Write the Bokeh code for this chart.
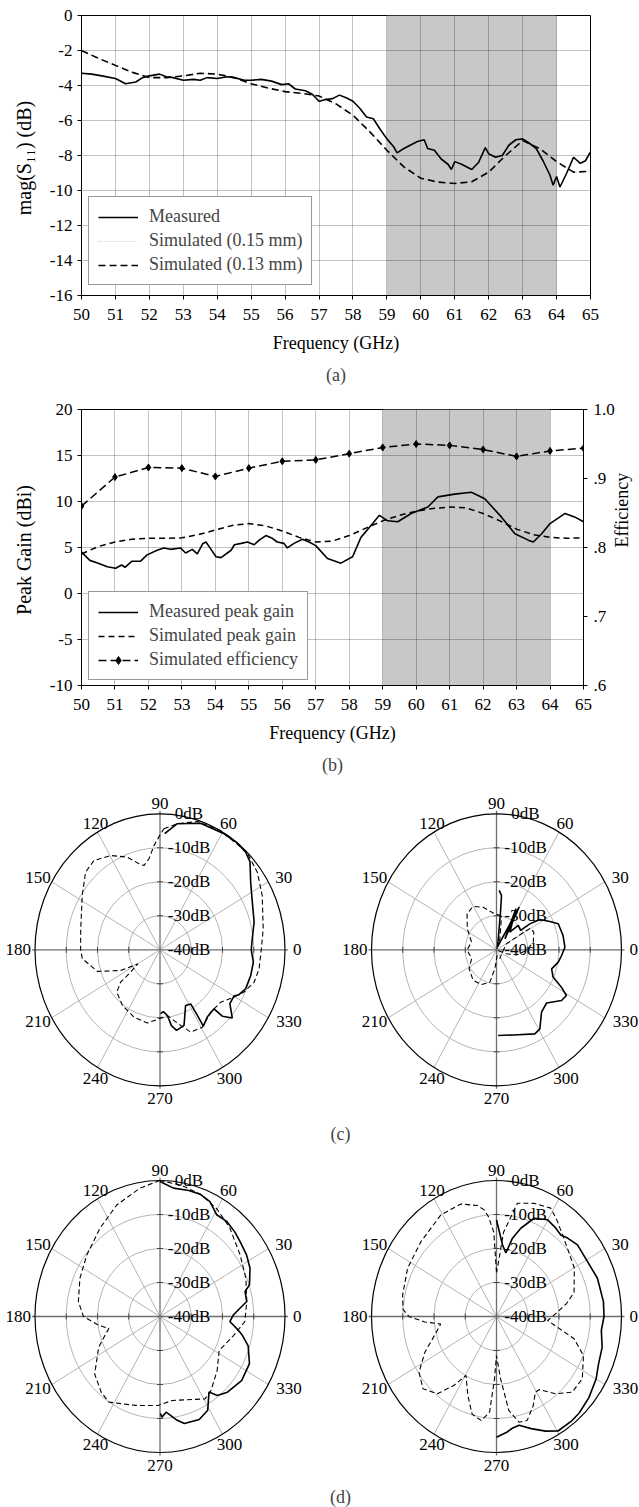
import numpy as np
from bokeh.plotting import figure
from bokeh.models import (Range1d, LinearAxis, FixedTicker, Legend, Title, Label,
                          ColumnDataSource, BoxAnnotation)
from bokeh.layouts import column
from bokeh.embed import file_html
from bokeh.resources import INLINE
from bokeh.core.properties import value

FONT = "Liberation Serif"
TICK_FS = "17px"
LAB_FS = "18px"
YLAB_FS = "20px"

# ---------------- (a) S11 ----------------
freq_ticks = list(range(50, 66))
s11_ticks = list(range(-16, 1, 2))
band = [59, 64]
s11_meas_f = [50.0, 50.3, 50.6, 51.0, 51.3, 51.6, 51.8, 52.0, 52.3, 52.5, 52.7, 53.0, 53.3, 53.5,
              53.7, 54.0, 54.3, 54.5, 54.8, 55.0, 55.3, 55.6, 55.9, 56.1, 56.3, 56.6, 56.8, 57.0,
              57.2, 57.4, 57.6, 57.8, 58.0, 58.2, 58.4, 58.6, 58.8, 59.0, 59.2, 59.3, 59.5, 59.7,
              59.9, 60.1, 60.2, 60.4, 60.6, 60.8, 60.9, 61.0, 61.2, 61.4, 61.5, 61.7, 61.9, 62.0,
              62.2, 62.4, 62.6, 62.8, 63.0, 63.2, 63.4, 63.6, 63.8, 63.9, 64.0, 64.1, 64.3, 64.5,
              64.7, 64.85, 65.0]
s11_meas = [-3.30, -3.35, -3.45, -3.60, -3.90, -3.80, -3.55, -3.45, -3.35, -3.50, -3.55, -3.70,
            -3.65, -3.70, -3.55, -3.60, -3.50, -3.55, -3.70, -3.70, -3.65, -3.75, -3.95, -3.90,
            -4.20, -4.30, -4.50, -4.90, -4.80, -4.75, -4.55, -4.70, -4.90, -5.30, -5.80, -5.90,
            -6.50, -7.05, -7.50, -7.85, -7.60, -7.40, -7.20, -7.10, -7.60, -7.70, -8.20, -8.50,
            -8.80, -8.35, -8.50, -8.70, -8.80, -8.40, -7.55, -7.90, -8.10, -8.00, -7.40, -7.10,
            -7.05, -7.30, -7.60, -8.30, -9.10, -9.70, -9.20, -9.80, -9.00, -8.10, -8.45, -8.30, -7.80]
s11_sim_f = [50, 50.5, 51, 51.5, 52, 52.5, 53, 53.5, 54, 54.5, 55, 55.5, 56, 56.5, 57, 57.5, 58,
             58.5, 59, 59.5, 60, 60.5, 61, 61.5, 62, 62.5, 63, 63.5, 64, 64.5, 65]
s11_sim13 = [-2.0, -2.45, -2.85, -3.25, -3.55, -3.55, -3.45, -3.30, -3.35, -3.55, -3.90, -4.15,
             -4.35, -4.45, -4.60, -5.05, -5.70, -6.65, -7.70, -8.65, -9.30, -9.52, -9.60, -9.50,
             -8.95, -8.00, -7.15, -7.60, -8.35, -8.95, -8.90]
s11_sim15 = [-2.0, -2.45, -2.85, -3.25, -3.55, -3.55, -3.45, -3.30, -3.35, -3.55, -3.90, -4.15,
             -4.35, -4.45, -4.60, -5.05, -5.70, -6.65, -7.70, -8.65, -9.30, -9.52, -9.60, -9.50,
             -8.95, -8.00, -7.15, -7.60, -8.35, -8.95, -8.90]

# ---------------- (b) gain / efficiency ----------------
gain_ticks = [-10, -5, 0, 5, 10, 15, 20]
eff_ticks = [60, 70, 80, 90, 100]           # efficiency in percent
eff_tick_labels = [".6", ".7", ".8", ".9", "1.0"]
gain_meas_f = [50.0, 50.25, 50.5, 50.77, 51.02, 51.2, 51.3, 51.5, 51.76, 51.96, 52.26, 52.46, 52.66,
               52.96, 53.11, 53.31, 53.46, 53.62, 53.72, 53.87, 54.02, 54.17, 54.47, 54.57, 54.77,
               54.96, 55.16, 55.31, 55.51, 55.7, 55.85, 56.05, 56.15, 56.35, 56.6, 56.8, 57.0,
               57.35, 57.75, 58.1, 58.35, 58.7, 58.9, 59.15, 59.45, 59.85, 60.35, 60.65, 61.15,
               61.65, 62.05, 62.55, 62.95, 63.35, 63.5, 63.75, 64.0, 64.45, 64.75, 65.0]
gain_meas = [4.5, 3.6, 3.3, 2.9, 2.75, 3.1, 2.85, 3.5, 3.5, 4.2, 4.7, 4.95, 4.8, 4.95, 4.4, 4.8,
             4.3, 5.4, 5.6, 4.8, 4.0, 3.9, 4.7, 5.3, 5.45, 5.6, 5.3, 5.8, 6.3, 6.0, 5.6, 5.45, 4.95,
             5.45, 5.9, 5.6, 5.2, 3.8, 3.3, 4.0, 6.1, 7.6, 8.5, 7.9, 7.8, 8.7, 9.4, 10.5, 10.8,
             11.0, 10.3, 8.3, 6.5, 5.8, 5.6, 6.5, 7.6, 8.7, 8.3, 7.8]
gain_sim_f = [50, 50.5, 51, 51.5, 52, 52.5, 53, 53.5, 54, 54.5, 55, 55.5, 56, 56.5, 57, 57.5, 58,
              58.5, 59, 59.5, 60, 60.5, 61, 61.5, 62, 62.5, 63, 63.5, 64, 64.5, 65]
gain_sim = [4.3, 5.1, 5.6, 5.9, 6.0, 6.0, 6.05, 6.4, 6.9, 7.4, 7.6, 7.35, 6.8, 6.1, 5.6, 5.7, 6.3,
            7.1, 7.9, 8.5, 8.95, 9.25, 9.4, 9.3, 8.7, 7.9, 7.0, 6.4, 6.1, 6.0, 6.05]
eff_f = list(range(50, 66))
eff = [0.860, 0.902, 0.916, 0.915, 0.903, 0.915, 0.925, 0.927, 0.936, 0.945, 0.950, 0.948,
       0.942, 0.932, 0.940, 0.944]

# ---------------- polar patterns (angle deg, dB) ----------------
polar_angles = [0, 30, 60, 90, 120, 150, 180, 210, 240, 270, 300, 330]
db_rings = [0, -10, -20, -30, -40]
db_labels = ["0dB", "-10dB", "-20dB", "-30dB", "-40dB"]

c1_meas_ang = [87.5, 81.5, 70.8, 59, 52, 46.3, 41.9, 34.5, 25.4, 15.1, 6.3, 0, -6.9, -14.6, -22.7,
               -27.6, -29.9, -35.3, -40.9, -44.4, -45.1, -52.6, -58.3, -58.2, -58.3, -63.4, -70.9,
               -77.4, -80.7, -83, -86.6, -89.4]
c1_meas_db = [-5.8, -2.5, -0.6, -0.2, 0, -0.3, -1.3, -4.8, -7.3, -8.8, -10.3, -10.8, -9.9, -10,
              -10.3, -11.5, -12.7, -12.6, -9.4, -12.1, -15.5, -15.1, -13.6, -17.3, -21.3, -21.7,
              -16.5, -15.7, -17.4, -20.5, -21.8, -21.2]
c1_sim_ang = [88, 81.5, 72.4, 61.4, 46.2, 36.2, 26, 10.6, 0, -10, -17.6, -24.8, -30.4, -38.4, -48.5,
              -59.2, -67.9, -73.5, -83, -91, -100.6, -112.8, -126.4, -138, -142.9, -145, -149.7,
              -154.2, -162.4, -174, -180, -193.6, -212.8, -223.8, -231.2, -240.4, -249, -255.1,
              -258.3, -262.5, -266.4, -270, -272]
c1_sim_db = [-4.4, -2.5, -0.4, 0, 0, -1.4, -3.6, -6.4, -7.6, -7.8, -8.4, -10.4, -12.5, -15.2, -15.5,
             -13.5, -13.9, -16.8, -20.5, -19.7, -18.1, -18.5, -19.7, -21.4, -24.2, -28.5, -31.8,
             -26, -19, -15, -14.6, -13.9, -10.4, -7, -6.3, -8.1, -10.8, -13.8, -14.7, -13, -9.3,
             -6.2, -4.4]

c2_meas_ang = [87.2, 84.3, 83.4, 70, 60, 50, 62.8, 50.5, 46, 36.5, 35.6, 32.7, 26, 21.2, 11.2, 2,
               -4.6, -10.4, -17.6, -23.9, -27.9, -31, -35.6, -44.3, -51.8, -59.2, -63.6, -78, -88.8]
c2_meas_db = [-22.5, -23.9, -28.8, -39, -25.5, -35.8, -26.4, -33.3, -30, -30.4, -26.9, -23.5, -21,
              -18.8, -18.3, -18.1, -19.1, -19.9, -21.5, -20.2, -16.5, -13.9, -14.4, -17.6, -16.7,
              -12.9, -12.4, -14.4, -14.8]
c2_sim_ang = [80.8, 95.6, 108.8, 120.4, 131.6, 146.4, 164.3, 180, 198.3, 212.6, 230.3, 244.8,
              257.4, 264.6, 277, 292.2, 340.5, 388.8, 390.2, 390.7, 390.3, 383.5, 370.9, 358.8,
              347, 340, 360, 431.6, 440.8]
c2_sim_db = [-30, -29.1, -26.8, -25.2, -25.8, -28.8, -31.7, -30.6, -31.6, -29.6, -28.3, -28.7,
             -30.2, -34.4, -38.3, -37.2, -38, -36.4, -32.6, -29.4, -27.4, -27, -28, -30.4, -33.4,
             -36.6, -40, -36.6, -30]

d1_meas_ang = [90, 83.5, 76, 70.4, 64.7, 58.8, 52.7, 46, 40.7, 33.2, 26.2, 18, 15.1, 9, 5.4, 1.2,
               -3.8, -8.5, -12, -17, -25.8, -35.8, -45.9, -51.7, -54.8, -61, -67.5, -76.1, -80.3,
               -86, -88.8, -89.8]
d1_meas_db = [-0.3, -2, -1.8, -1.8, -2.6, -5, -4.8, -5.5, -6.2, -6.9, -7.9, -9.9, -11.8, -11.9,
              -14.3, -16.5, -17.6, -15, -13, -10.5, -8.2, -7.8, -9, -10.4, -12.8, -8.5, -7.2, -7.6,
              -9.2, -11.8, -10.4, -11.5]
d1_sim_ang = [90, 99.6, 112.9, 126.4, 142.3, 156.2, 170.4, 180, 188, 192, 197.6, 204.7, 219, 230,
              237.1, 253.3, 268.6, 279, 300.7, 306.9, 319.1, 332.2, 346.6, 356.9, 369, 382.3,
              395.3, 409.3, 420, 430, 440, 450]
d1_sim_db = [0, -1.7, -4.4, -7.7, -10.4, -12, -13.5, -15.5, -20.5, -23.3, -21.5, -18.4, -13.1,
             -10.8, -10, -12.7, -13.8, -15, -11.8, -12.8, -15.8, -18.6, -15.8, -12.8, -11.9, -10.3,
             -8.6, -5.7, -3.5, -1.8, -0.8, 0]

d2_meas_ang = [90, 84.8, 80.9, 77.5, 73.3, 67.4, 60.1, 54, 49.4, 45.4, 39.1, 29, 19.2, 7.3, 0, -7,
               -15, -23.1, -30, -38.9, -47, -51.7, -59.7, -65, -71.4, -77.3, -81, -84.5, -90]
d2_meas_db = [-11.6, -18.8, -21.1, -16.4, -12.9, -8.7, -7.2, -7.8, -8.4, -7.6, -6.6, -6.7, -5.8,
              -5.5, -5.6, -6.2, -5.0, -4.5, -3.2, -2.0, -1.2, -1.0, -1.0, -2.8, -5.2, -7.2, -6.8,
              -5.8, -4.5]
d2_sim_ang = [90, 92, 95, 97.2, 100.6, 109, 120.8, 137.7, 153.5, 168, 176, 180, 184, 187, 193.5,
              204.6, 213.4, 222.1, 230.2, 236, 240.6, 248.5, 254.7, 261, 265.5, 268, 270, 274.1,
              278.1, 283, 287.8, 294.2, 299.2, 302.6, 309.8, 317.4, 326.3, 337.6, 345.2, 349.8,
              355.9, 363.7, 369.8, 375.9, 389.8, 401.5, 415.1, 421.4, 430.1, 438.6, 444.8, 447.7,
              450]
d2_sim_db = [-27, -15.2, -10.5, -8.4, -6.8, -5, -5.2, -7.3, -8.2, -9.3, -10, -12, -17, -22, -20.2,
             -14.8, -10.3, -8.3, -10.4, -15.5, -20.1, -15, -10.3, -9, -11.8, -21.7, -28.5, -21.6,
             -12.1, -8.1, -7.9, -11.3, -14.5, -14.5, -10.4, -7.1, -7, -9.9, -14.3, -19.4, -23.6,
             -20.5, -17.2, -14.2, -11.3, -9.7, -5.9, -3.7, -4.6, -6, -15.1, -24, -27]


# ---------------- helpers ----------------
def hyphen_labels(ticks):
    return {t: str(t) for t in ticks}


def style_cart(p):
    for ax in p.axis:
        ax.major_label_text_font = FONT
        ax.major_label_text_font_size = TICK_FS
        ax.axis_label_text_font = FONT
        ax.axis_label_text_font_size = LAB_FS
        ax.axis_label_text_font_style = "normal"
        ax.axis_label_text_color = "black"
        ax.major_label_text_color = "black"
        ax.axis_line_color = "black"
        ax.major_tick_line_color = "black"
        ax.major_tick_in = 0
        ax.major_tick_out = 4
        ax.minor_tick_line_color = None
    for g in p.grid:
        g.grid_line_color = "black"
        g.grid_line_alpha = 0.24
    p.outline_line_color = "black"
    p.outline_line_alpha = 1


def make_legend(items, loc):
    return Legend(items=items, location=loc, label_text_font=FONT, label_text_font_size=LAB_FS,
                  glyph_width=40, glyph_height=20, label_height=20, label_standoff=11, spacing=3,
                  padding=9, margin=0, border_line_color="#333333", border_line_width=1,
                  background_fill_color="white", background_fill_alpha=1)


def bottom_title(p, text, standoff):
    p.add_layout(Title(text=text, align="center", text_font=FONT, text_font_size=LAB_FS,
                       text_font_style="normal", standoff=standoff), "below")


# ---------------- figure (a) ----------------
pa = figure(frame_width=509, frame_height=280, min_border_left=81, min_border_right=49,
            min_border_top=15, min_border_bottom=100, x_range=Range1d(50, 65),
            y_range=Range1d(-16, 0), output_backend="svg", toolbar_location=None,
            frame_align=False)
pa.add_layout(BoxAnnotation(left=band[0], right=band[1], fill_color="#c8c8c8", fill_alpha=1,
                            line_alpha=0, level="image"))
pa.xaxis.ticker = FixedTicker(ticks=freq_ticks)
pa.yaxis.ticker = FixedTicker(ticks=s11_ticks)
pa.yaxis.major_label_overrides = hyphen_labels(s11_ticks)
pa.xgrid.ticker = FixedTicker(ticks=freq_ticks)
pa.ygrid.ticker = FixedTicker(ticks=s11_ticks)
pa.xaxis.axis_label = "Frequency (GHz)"
pa.yaxis.axis_label = "mag(S\u2081\u2081)  (dB)"
style_cart(pa)
pa.yaxis.axis_label_standoff = 12
pa.yaxis.axis_label_text_font_size = YLAB_FS
pa.xaxis.major_label_standoff = 9
pa.xaxis.axis_label_standoff = 10

r15 = pa.line(s11_sim_f, s11_sim15, line_color="#bdbdbd", line_width=1, line_dash="1 2")
r13 = pa.line(s11_sim_f, s11_sim13, line_color="black", line_width=1.6, line_dash="7 4")
rm = pa.line(s11_meas_f, s11_meas, line_color="black", line_width=1.6)
pa.add_layout(make_legend([("Measured", [rm]), ("Simulated (0.15 mm)", [r15]),
                           ("Simulated (0.13 mm)", [r13])], (7, 10)))
bottom_title(pa, "(a)", 14)

# ---------------- figure (b) ----------------
pb = figure(frame_width=502, frame_height=276, min_border_left=81, min_border_right=56,
            min_border_top=14, min_border_bottom=100, x_range=Range1d(50, 65),
            y_range=Range1d(-10, 20), output_backend="svg", toolbar_location=None,
            frame_align=False)
pb.extra_y_ranges = {"eff": Range1d(60, 100)}
pb.add_layout(BoxAnnotation(left=band[0], right=band[1], fill_color="#c8c8c8", fill_alpha=1,
                            line_alpha=0, level="image"))
rax = LinearAxis(y_range_name="eff", ticker=FixedTicker(ticks=eff_ticks),
                 major_label_overrides={t: l for t, l in zip(eff_ticks, eff_tick_labels)},
                 axis_label="Efficiency")
pb.add_layout(rax, "right")
pb.xaxis.ticker = FixedTicker(ticks=freq_ticks)
pb.yaxis[0].ticker = FixedTicker(ticks=gain_ticks)
pb.yaxis[0].major_label_overrides = hyphen_labels(gain_ticks)
pb.xgrid.ticker = FixedTicker(ticks=freq_ticks)
pb.ygrid.ticker = FixedTicker(ticks=gain_ticks)
pb.xaxis.axis_label = "Frequency (GHz)"
pb.yaxis[0].axis_label = "Peak Gain  (dBi)"
style_cart(pb)
pb.yaxis[0].axis_label_standoff = 12
pb.yaxis[0].axis_label_text_font_size = YLAB_FS
pb.xaxis.major_label_standoff = 9
pb.xaxis.axis_label_standoff = 10
rax.axis_label_standoff = 4
rax.major_label_standoff = 6
rax.axis_label_orientation = np.pi / 2

gm = pb.line(gain_meas_f, gain_meas, line_color="black", line_width=1.6)
gs = pb.line(gain_sim_f, gain_sim, line_color="black", line_width=1.5, line_dash="6 4")
eff_pct = [e * 100 for e in eff]
el = pb.line(eff_f, eff_pct, line_color="black", line_width=1.5, line_dash="8 4",
             y_range_name="eff")
em = pb.scatter(eff_f, eff_pct, marker="diamond", size=7, color="black", y_range_name="eff")
pb.add_layout(make_legend([("Measured peak gain", [gm]), ("Simulated peak gain", [gs]),
                           ("Simulated efficiency", [el, em])], (7, 5)))
bottom_title(pb, "(b)", 14)


# ---------------- polar panels ----------------
PX_X = 125.0   # px per unit radius horizontally
PX_Y = 136.0   # px per unit radius vertically
PAGE_W = 639
LEFT_CX_PX = 159.5
RIGHT_CX = (496.0 - LEFT_CX_PX) / PX_X
GRID = "#b4b4b4"

ang_style = {0: ("left", "middle", 8, 0), 30: ("left", "middle", 7, -4),
             60: ("center", "bottom", 6, -3), 90: ("center", "bottom", 0, -5),
             120: ("center", "bottom", -2, -3), 150: ("right", "middle", -1, -4),
             180: ("right", "middle", -4, 0), 210: ("right", "middle", -1, 4),
             240: ("center", "top", -2, 5), 270: ("center", "top", 0, 7),
             300: ("center", "top", 7, 5), 330: ("left", "middle", 8, 4)}


def to_xy(cx, ang, db):
    a = np.radians(np.asarray(ang, dtype=float))
    r = np.clip((np.asarray(db, dtype=float) + 40.0) / 40.0, 0, None)
    return cx + r * np.cos(a), r * np.sin(a)


def draw_polar(p, cx, m_ang, m_db, s_ang, s_db):
    radii = [(d + 40.0) / 40.0 for d in db_rings]
    inner = [r for r in radii if 0 < r < 1]
    p.ellipse(x=[cx] * len(inner), y=[0] * len(inner), width=[2 * r for r in inner],
              height=[2 * r for r in inner], fill_color=None, line_color=GRID, line_width=1)
    sp = [a for a in polar_angles if a % 90 != 0]
    p.segment(x0=[cx] * len(sp), y0=[0] * len(sp),
              x1=[cx + np.cos(np.radians(a)) for a in sp],
              y1=[np.sin(np.radians(a)) for a in sp], line_color=GRID, line_width=1)
    ex, ey = 3.0 / PX_X, 3.0 / PX_Y
    p.segment(x0=[cx - 1 - ex, cx], y0=[0, -1 - ey], x1=[cx + 1 + ex, cx], y1=[0, 1 + ey],
              line_color="#6e6e6e", line_width=1.3)
    p.ellipse(x=[cx], y=[0], width=[2], height=[2], fill_color=None, line_color="black",
              line_width=1.2)
    p.scatter(x=[cx] * (2 * len(inner)), y=inner + [-r for r in inner], marker="dash", size=6,
              line_color="#444444", line_width=1)
    p.scatter(x=[cx + r for r in inner] + [cx - r for r in inner], y=[0] * (2 * len(inner)),
              marker="dash", angle=np.pi / 2, size=6, line_color="#444444", line_width=1)
    # dB labels
    p.text(x=[cx] * len(radii), y=radii, text=db_labels, x_offset=29, text_align="center",
           text_baseline="middle", text_font=value(FONT), text_font_size=value(TICK_FS),
           text_color="black")
    # angle labels
    src = ColumnDataSource(dict(
        x=[cx + np.cos(np.radians(a)) for a in polar_angles],
        y=[np.sin(np.radians(a)) for a in polar_angles],
        t=[str(a) for a in polar_angles],
        al=[ang_style[a][0] for a in polar_angles],
        bl=[ang_style[a][1] for a in polar_angles],
        xo=[ang_style[a][2] for a in polar_angles],
        yo=[ang_style[a][3] for a in polar_angles]))
    p.text(x="x", y="y", text="t", text_align="al", text_baseline="bl", x_offset="xo",
           y_offset="yo", source=src, text_font=value(FONT), text_font_size=value(TICK_FS),
           text_color="black")
    sx, sy = to_xy(cx, s_ang, s_db)
    p.line(sx, sy, line_color="black", line_width=1.1, line_dash="5 3")
    mx, my = to_xy(cx, m_ang, m_db)
    p.line(mx, my, line_color="black", line_width=1.6)


def polar_fig(height, cy_from_top, label, label_y_px):
    xmin = -LEFT_CX_PX / PX_X
    xmax = xmin + PAGE_W / PX_X
    ymax = cy_from_top / PX_Y
    ymin = ymax - height / PX_Y
    p = figure(frame_width=PAGE_W, frame_height=height, min_border=0, min_border_left=0,
               min_border_right=0, min_border_top=0, min_border_bottom=0,
               x_range=Range1d(xmin, xmax), y_range=Range1d(ymin, ymax),
               x_axis_location=None, y_axis_location=None, output_backend="svg",
               toolbar_location=None, frame_align=False)
    p.grid.visible = False
    p.outline_line_color = None
    p.add_layout(Label(x=(340 - LEFT_CX_PX) / PX_X, y=-label_y_px / PX_Y, text=label,
                       text_font=FONT, text_font_size=LAB_FS, text_align="center",
                       text_baseline="middle"))
    return p


pc = polar_fig(365, 949.3 - 785, "(c)", 1133 - 949.3)
draw_polar(pc, 0.0, c1_meas_ang, c1_meas_db, c1_sim_ang, c1_sim_db)
draw_polar(pc, RIGHT_CX, c2_meas_ang, c2_meas_db, c2_sim_ang, c2_sim_db)

pd = polar_fig(357, 1316 - 1150, "(d)", 1496 - 1316)
draw_polar(pd, 0.0, d1_meas_ang, d1_meas_db, d1_sim_ang, d1_sim_db)
draw_polar(pd, RIGHT_CX, d2_meas_ang, d2_meas_db, d2_sim_ang, d2_sim_db)

layout = column(pa, pb, pc, pd, spacing=0)
open("out.html", "w").write(file_html(layout, INLINE))
